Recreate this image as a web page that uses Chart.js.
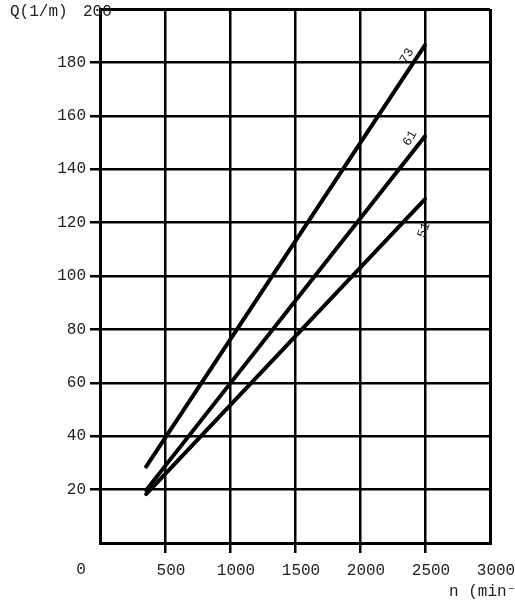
<!DOCTYPE html>
<html><head><meta charset="utf-8">
<script src="https://cdn.jsdelivr.net/npm/chart.js@4/dist/chart.umd.min.js"></script>
<style>html,body{margin:0;padding:0;background:#fff;}canvas{display:block;}</style>
</head><body>
<canvas id="c" width="515" height="600"></canvas>
<script>
// ---- data ----
const xTickValues = [0, 500, 1000, 1500, 2000, 2500, 3000];
const yTickValues = [0, 20, 40, 60, 80, 100, 120, 140, 160, 180, 200];
const seriesNames = ['73', '61', '51'];
const speedRange = [355, 2500];          // n (min-1), start and end of each line
const flow73 = [28.6, 186.5];            // Q (l/m)
const flow61 = [19.8, 152.3];
const flow51 = [18.3, 128.8];
const yAxisLabel = 'Q(1/m)';
const xAxisLabel = 'n (min\u207B\u00B9)';

const FONT = '"Liberation Mono", "Courier New", monospace';
const TXT = '#222';

function pts(ys) { return speedRange.map((x, i) => ({ x: x, y: ys[i] })); }
const allFlows = [flow73, flow61, flow51];

const labelOffsets = [[-18, 11], [-15, 2], [-1, 31]];
const labelRot = [-60, -60, -70];

const extras = {
  id: 'extras',
  afterDatasetsDraw(chart) {
    const ctx = chart.ctx;
    const xs = chart.scales.x, ys = chart.scales.y;
    ctx.save();
    ctx.fillStyle = TXT;
    ctx.font = '13px ' + FONT;
    ctx.textAlign = 'center'; ctx.textBaseline = 'middle';
    chart.data.datasets.forEach((ds, i) => {
      const p = ds.data[ds.data.length - 1];
      const px = xs.getPixelForValue(p.x) + labelOffsets[i][0];
      const py = ys.getPixelForValue(p.y) + labelOffsets[i][1];
      ctx.save();
      ctx.translate(px, py);
      ctx.rotate(labelRot[i] * Math.PI / 180);
      ctx.fillText(ds.label, 0, 0);
      ctx.restore();
    });
    ctx.font = '16px ' + FONT;
    ctx.textAlign = 'left';
    const topY = ys.getPixelForValue(200);
    ctx.fillText(yAxisLabel, 10, topY + 3);
    ctx.fillText(String(yTickValues[yTickValues.length - 1]), 83, topY + 3);
    ctx.textAlign = 'center';
    ctx.fillText(String(xTickValues[0]), xs.getPixelForValue(0) - 19, 570);
    ctx.textAlign = 'left';
    ctx.fillText(xAxisLabel, 449, 592);
    ctx.restore();
  }
};

const edgeX = v => v === xTickValues[0] || v === xTickValues[xTickValues.length - 1];
const edgeY = v => v === yTickValues[0] || v === yTickValues[yTickValues.length - 1];

new Chart(document.getElementById('c'), {
  type: 'scatter',
  data: {
    datasets: seriesNames.map((n, i) => ({
      label: n,
      data: pts(allFlows[i]),
      showLine: true,
      borderColor: '#000',
      borderWidth: 4,
      pointRadius: 0,
      borderCapStyle: 'round',
      fill: false
    }))
  },
  options: {
    responsive: false,
    devicePixelRatio: 1,
    animation: false,
    layout: { padding: { left: 0, right: 25, top: 9, bottom: 0 } },
    plugins: { legend: { display: false }, tooltip: { enabled: false } },
    scales: {
      x: {
        type: 'linear',
        min: xTickValues[0], max: xTickValues[xTickValues.length - 1],
        afterBuildTicks(s) { s.ticks = xTickValues.map(v => ({ value: v })); },
        afterFit(s) { s.height = 57; s.paddingLeft = 0; s.paddingRight = 0; },
        border: { color: '#000', width: 3 },
        grid: {
          color: '#000',
          lineWidth: c => edgeX(c.tick && c.tick.value) ? 3 : 2.5,
          tickLength: 10,
          tickColor: c => edgeX(c.tick && c.tick.value) ? 'rgba(0,0,0,0)' : '#000',
          tickWidth: 2.5
        },
        ticks: {
          color: TXT,
          font: { family: FONT, size: 16 },
          padding: 8,
          labelOffset: 6,
          maxRotation: 0,
          autoSkip: false,
          callback: v => v === xTickValues[0] ? '' : String(v)
        }
      },
      y: {
        type: 'linear',
        min: yTickValues[0], max: yTickValues[yTickValues.length - 1],
        afterBuildTicks(s) { s.ticks = yTickValues.map(v => ({ value: v })); },
        afterFit(s) { s.width = 100; s.paddingTop = 0; s.paddingBottom = 0; },
        border: { color: '#000', width: 3 },
        grid: {
          color: '#000',
          lineWidth: c => edgeY(c.tick && c.tick.value) ? 3 : 2.5,
          tickLength: 10,
          tickColor: c => edgeY(c.tick && c.tick.value) ? 'rgba(0,0,0,0)' : '#000',
          tickWidth: 2.5
        },
        ticks: {
          color: TXT,
          font: { family: FONT, size: 16 },
          padding: 4,
          autoSkip: false,
          callback: v => edgeY(v) ? '' : String(v)
        }
      }
    }
  },
  plugins: [extras]
});
</script>
</body></html>
